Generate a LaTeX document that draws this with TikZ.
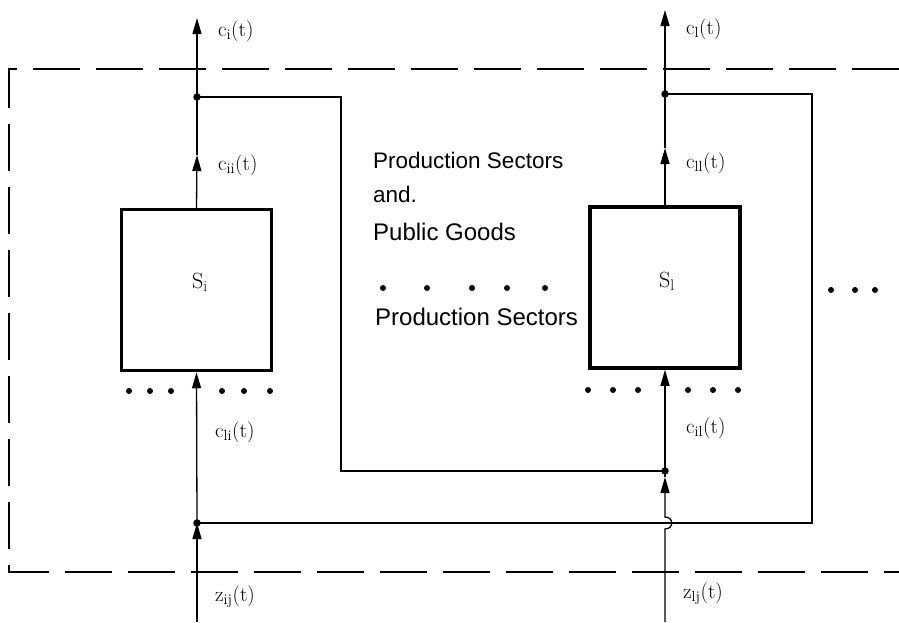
\documentclass[tikz,border=0pt]{standalone}
\usepackage{fontspec}
\newfontfamily\labfont{Liberation Sans}
\usetikzlibrary{arrows.meta}
\newcommand{\sig}[2]{#1$_{\mathrm{#2}}$(t)}
\begin{document}
\begin{tikzpicture}[x=1pt,y=-1pt,
  wire/.style={line width=1.3pt},
  sbox/.style={draw,line width=3.5pt,minimum width=150pt,minimum height=161pt,inner sep=0pt},
  arr/.style={wire,-{Triangle[length=16pt,width=9pt]}},
  jdot/.style={circle,fill,inner sep=0pt,minimum size=7.5pt},
  bdot/.style={circle,fill,inner sep=0pt,minimum size=6pt},
  frame/.style={line width=1.3pt,dash pattern=on 47pt off 16pt},
  lab/.style={anchor=west,font=\fontsize{21}{23}\selectfont,inner sep=0pt},
  slab/.style={anchor=base west,font=\fontsize{22}{24}\selectfont,inner sep=0pt},
  txt/.style={anchor=base west,inner sep=0pt}]
\useasboundingbox (0,0) rectangle (899,622);

% dashed frame
\draw[frame] (899,69) -- (9,69) -- (9,572) -- (899,572);

% boxes
\node[sbox] (Bi) at (196.5,290) {};
\node[sbox] (Bl) at (665,287.5) {};
\node[slab] (Si) at (192,288) {S$_{\mathrm{i}}$};
\node[slab] (Sl) at (659,287) {S$_{\mathrm{l}}$};

% coordinates
\coordinate (Lbot) at (197,622);
\coordinate (Ltop) at (197,18);
\coordinate (Lmid) at (197,155);
\coordinate (Rbot) at (665,622);
\coordinate (Rtop) at (665,10);
\coordinate (Rmid) at (665,148);
\node[jdot] (JLt) at (197,97) {};
\node[jdot] (JRt) at (665,94) {};
\node[jdot] (JLb) at (197,523) {};
\node[jdot] (JRb) at (665,471) {};
\coordinate (Fa) at (341,97);
\coordinate (Fb) at (341,471);
\coordinate (Ga) at (812,94);
\coordinate (Gb) at (812,523);

% left chain
\draw[arr] (Lbot) -- (JLb.center);
\draw[arr] (JLb.center) -- (Bi.south);
\draw[arr] (Bi.north) -- (Lmid);
\draw[wire] (Lmid) -- (JLt.center);
\draw[arr] (JLt.center) -- (Ltop);

% right chain with hop
\draw[arr] (Rbot) -- (665,529) .. controls (674,529) and (674,517) .. (665,517) -- (665,477);
\draw[wire] (665,477) -- (JRb.center);
\draw[arr] (JRb.center) -- (Bl.south);
\draw[arr] (Bl.north) -- (Rmid);
\draw[wire] (Rmid) -- (JRt.center);
\draw[arr] (JRt.center) -- (Rtop);

% feedback lines
\draw[wire] (JLt.center) -- (Fa) -- (Fb) -- (JRb.center);
\draw[wire] (JRt.center) -- (Ga) -- (Gb) -- (JLb.center);

% dots rows
\foreach \x [count=\k] in {129,150,171,222,244,270} \node[bdot] (dl\k) at (\x,391) {};
\foreach \x [count=\k] in {588,613,638,688,713,738} \node[bdot] (dr\k) at (\x,390) {};
\foreach \x [count=\k] in {383,427,472,507,545} \node[bdot] (dm\k) at (\x,288) {};
\foreach \x [count=\k] in {831,855,875} \node[bdot] (de\k) at (\x,290) {};

% labels
\node[lab] (l1) at (218,31) {\sig{c}{i}};
\node[lab] (l2) at (218,165) {\sig{c}{ii}};
\node[lab] (l3) at (215,432) {\sig{c}{li}};
\node[lab] (l4) at (215,597) {\sig{z}{ij}};
\node[lab] (r1) at (686,29) {\sig{c}{l}};
\node[lab] (r2) at (686,163) {\sig{c}{ll}};
\node[lab] (r3) at (686,428) {\sig{c}{il}};
\node[lab] (r4) at (683,594) {\sig{z}{lj}};

% central text
\node[txt,font=\labfont\fontsize{22.5}{24}\selectfont] (t1) at (373,168) {Production Sectors};
\node[txt,font=\labfont\fontsize{22.5}{24}\selectfont] (t2) at (373,202) {and.};
\node[txt,font=\labfont\fontsize{24}{26}\selectfont] (t3) at (373,240) {Public Goods};
\node[txt,font=\labfont\fontsize{24}{26}\selectfont] (t4) at (375,325) {Production Sectors};
\end{tikzpicture}
\end{document}
